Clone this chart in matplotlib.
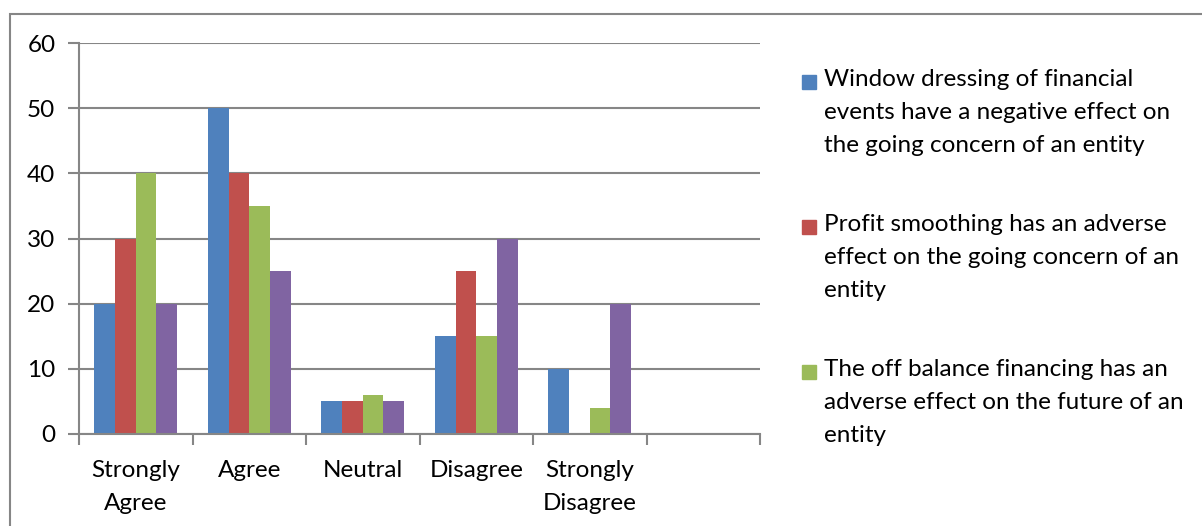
import matplotlib
matplotlib.use("Agg")
import matplotlib.pyplot as plt
from matplotlib.patches import Rectangle
import numpy as np

plt.rcParams["font.family"] = ["Lato", "DejaVu Sans"]

categories = ["Strongly\nAgree", "Agree", "Neutral", "Disagree", "Strongly\nDisagree", ""]
window_dressing = [20, 50, 5, 15, 10]
profit_smoothing = [30, 40, 5, 25, 0]
off_balance = [40, 35, 6, 15, 4]
fourth_series = [20, 25, 5, 30, 20]

legend_labels = [
    "Window dressing of financial\nevents have a negative effect on\nthe going concern of an entity",
    "Profit smoothing has an adverse\neffect on the going concern of an\nentity",
    "The off balance financing has an\nadverse effect on the future of an\nentity",
]
colors = ["#4F81BD", "#C0504D", "#9BBB59", "#8064A2"]
grey = "#868686"
fs = 17.5

W, H = 1202, 526
fig = plt.figure(figsize=(W / 100, H / 100), dpi=100)

# chart frame, cut off at right and bottom
fig.patches.append(Rectangle((10 / W, -0.1), 1.2, (H - 14) / H + 0.1,
                             transform=fig.transFigure, fill=False,
                             edgecolor=grey, linewidth=1.5))

ax = fig.add_axes([79 / W, 1 - 434 / H, (760 - 79) / W, (434 - 43) / H])

series = [window_dressing, profit_smoothing, off_balance, fourth_series]
n = len(series)
w = 1 / (n + 1.5)
x = np.arange(len(window_dressing))
for i, vals in enumerate(series):
    ax.bar(x + (i - (n - 1) / 2) * w, vals, width=w, color=colors[i], zorder=3)

ax.set_xlim(-0.5, len(categories) - 0.5)
ax.set_ylim(0, 60)
ax.set_yticks(range(0, 61, 10))
ax.set_xticks(np.arange(len(categories) + 1) - 0.5, minor=False)
ax.set_xticklabels([""] * (len(categories) + 1))
ax.set_xticks(np.arange(len(categories)), minor=True)
ax.set_xticklabels(categories, minor=True)
for lab in ax.get_xticklabels(minor=True):
    lab.set_linespacing(1.7)
ax.tick_params(axis="x", which="minor", length=0, pad=19, labelsize=fs)
ax.tick_params(axis="x", which="major", length=8, width=1.5, color=grey)
ax.tick_params(axis="y", length=8, width=1.5, color=grey, labelsize=fs, pad=9)
ax.yaxis.grid(True, color=grey, linewidth=1.5, zorder=0)
for s in ["top", "right"]:
    ax.spines[s].set_visible(False)
for s in ["left", "bottom"]:
    ax.spines[s].set_color(grey)
    ax.spines[s].set_linewidth(1.5)
ax.spines["bottom"].set_zorder(4)

# legend, markers aligned with the first text line
for i, label in enumerate(legend_labels):
    ytop = 69 + i * 145
    fig.patches.append(Rectangle((802 / W, 1 - (ytop + 20) / H), 14 / W, 14 / H,
                                 transform=fig.transFigure, color=colors[i]))
    fig.text(824 / W, 1 - ytop / H, label, fontsize=fs, va="top", ha="left",
             linespacing=1.72)

fig.savefig("out.png", dpi=100)
